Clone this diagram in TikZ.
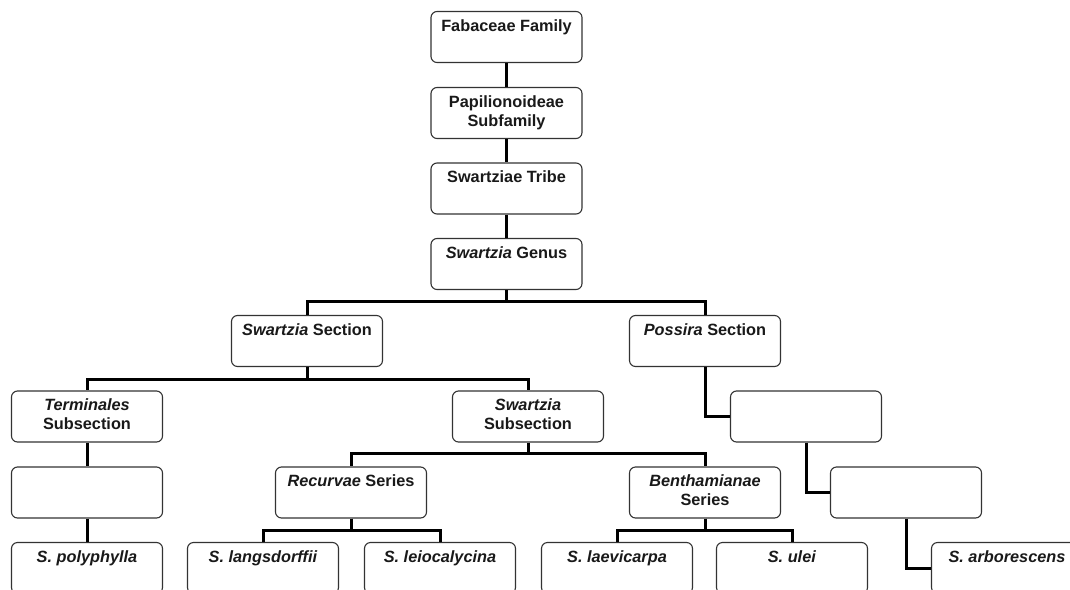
\documentclass[tikz,border=0pt]{standalone}
\usepackage{fontspec}
\setmainfont{Liberation Sans}
\begin{document}
\begin{tikzpicture}[x=1pt,y=-1pt,
  box/.style={draw=black!80, line width=1.1pt, rounded corners=6pt, minimum width=151pt, minimum height=51pt, inner sep=0pt, fill=white},
  lbl/.style={anchor=north, align=center, inner sep=0pt, font=\fontsize{16.3}{19}\selectfont\bfseries, text=black!90},
  conn/.style={line width=3pt, black}]
\clip (0,0) rectangle (1070,589);
% boxes
\node[box] (fab) at (506.5,37) {};
\node[box] (pap) at (506.5,113) {};
\node[box] (tri) at (506.5,188.5) {};
\node[box] (gen) at (506.5,264) {};
\node[box] (ssec) at (307,341) {};
\node[box] (psec) at (705,341) {};
\node[box] (term) at (87,416.5) {};
\node[box] (ssub) at (528,416.5) {};
\node[box] (pb1) at (806,416.5) {};
\node[box] (emp) at (87,492.5) {};
\node[box] (rec) at (351,492.5) {};
\node[box] (ben) at (705,492.5) {};
\node[box] (pb2) at (906,492.5) {};
\node[box] (pol) at (87,568) {};
\node[box] (lan) at (263,568) {};
\node[box] (lei) at (440,568) {};
\node[box] (lae) at (617,568) {};
\node[box] (ule) at (792,568) {};
\node[box] (arb) at (1007,568) {};
% labels
\node[lbl] (fabt) at ([yshift=-8.5pt]fab.north) {Fabaceae Family};
\node[lbl] (papt) at ([yshift=-8.5pt]pap.north) {Papilionoideae\\Subfamily};
\node[lbl] (trit) at ([yshift=-8.5pt]tri.north) {Swartziae Tribe};
\node[lbl] (gent) at ([yshift=-8.5pt]gen.north) {\textit{Swartzia} Genus};
\node[lbl] (ssect) at ([yshift=-8.5pt]ssec.north) {\textit{Swartzia} Section};
\node[lbl] (psect) at ([yshift=-8.5pt]psec.north) {\textit{Possira} Section};
\node[lbl] (termt) at ([yshift=-8.5pt]term.north) {\textit{Terminales}\\Subsection};
\node[lbl] (ssubt) at ([yshift=-8.5pt]ssub.north) {\textit{Swartzia}\\Subsection};
\node[lbl] (rect) at ([yshift=-8.5pt]rec.north) {\textit{Recurvae} Series};
\node[lbl] (bent) at ([yshift=-8.5pt]ben.north) {\textit{Benthamianae}\\Series};
\node[lbl] (polt) at ([yshift=-8.5pt]pol.north) {\textit{S. polyphylla}};
\node[lbl] (lant) at ([yshift=-8.5pt]lan.north) {\textit{S. langsdorffii}};
\node[lbl] (leit) at ([yshift=-8.5pt]lei.north) {\textit{S. leiocalycina}};
\node[lbl] (laet) at ([yshift=-8.5pt]lae.north) {\textit{S. laevicarpa}};
\node[lbl] (ulet) at ([yshift=-8.5pt]ule.north) {\textit{S. ulei}};
\node[lbl] (arbt) at ([yshift=-8.5pt]arb.north) {\textit{S. arborescens}};
% connectors
\draw[conn] (fab.south) -- (pap.north);
\draw[conn] (pap.south) -- (tri.north);
\draw[conn] (tri.south) -- (gen.north);
\draw[conn] (gen.south) -- ++(0,11) -| (ssec.north);
\draw[conn] (gen.south) -- ++(0,11) -| (psec.north);
\draw[conn] (ssec.south) -- ++(0,12) -| (term.north);
\draw[conn] (ssec.south) -- ++(0,12) -| (ssub.north);
\draw[conn] (term.south) -- (emp.north);
\draw[conn] (emp.south) -- (pol.north);
\draw[conn] (ssub.south) -- ++(0,11) -| (rec.north);
\draw[conn] (ssub.south) -- ++(0,11) -| (ben.north);
\draw[conn] (rec.south) -- ++(0,12) -| (lan.north);
\draw[conn] (rec.south) -- ++(0,12) -| (lei.north);
\draw[conn] (ben.south) -- ++(0,12) -| (lae.north);
\draw[conn] (ben.south) -- ++(0,12) -| (ule.north);
\draw[conn] (psec.south) |- (pb1.west);
\draw[conn] (pb1.south) |- (pb2.west);
\draw[conn] (pb2.south) |- (arb.west);
\end{tikzpicture}
\end{document}
